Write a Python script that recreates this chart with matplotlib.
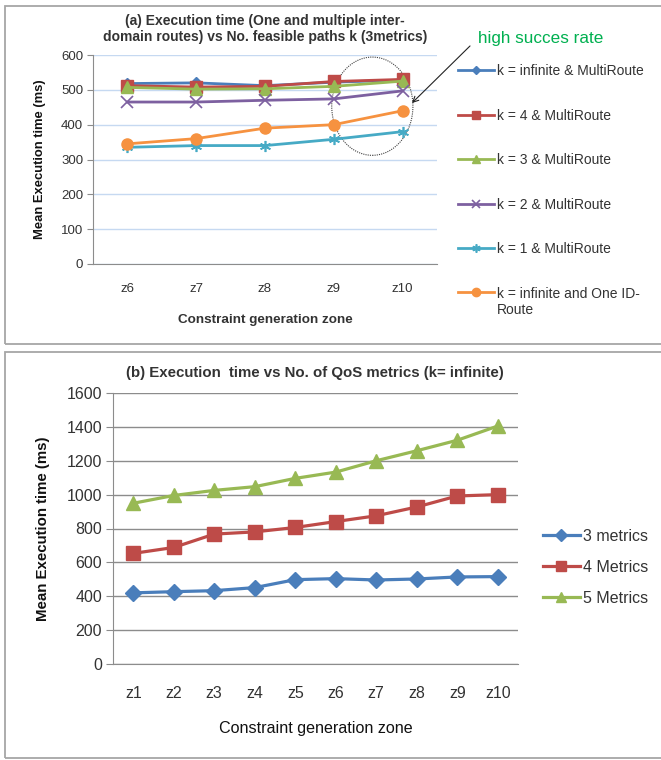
import numpy as np
import matplotlib
matplotlib.use("Agg")
import matplotlib.pyplot as plt
from matplotlib.patches import Ellipse, Rectangle

plt.rcParams['font.family'] = ['Liberation Sans', 'DejaVu Sans']

# (a) execution time vs k, zones z6..z10
zones_a = ['z6', 'z7', 'z8', 'z9', 'z10']
k_inf_multi = [518, 520, 512, 522, 528]
k4_multi = [512, 508, 510, 524, 530]
k3_multi = [507, 502, 503, 510, 525]
k2_multi = [465, 465, 470, 474, 497]
k1_multi = [335, 340, 340, 358, 380]
k_inf_one = [345, 360, 390, 400, 440]

# (b) execution time vs number of QoS metrics, zones z1..z10
zones_b = ['z1', 'z2', 'z3', 'z4', 'z5', 'z6', 'z7', 'z8', 'z9', 'z10']
m3 = [420, 427, 433, 451, 498, 504, 496, 502, 514, 516]
m4 = [653, 688, 767, 780, 806, 841, 875, 927, 992, 1000]
m5 = [949, 995, 1025, 1047, 1096, 1133, 1200, 1259, 1321, 1405]

BLUE = '#4a7ebb'
RED = '#be4b48'
GREEN = '#98b954'
PURPLE = '#7d60a0'
CYAN = '#46aac5'
ORANGE = '#f69240'
TXT = '#333333'

W, H = 661, 760
fig = plt.figure(figsize=(W / 100, H / 100), dpi=100)

def fx(px):
    return px / W

def fy(py):
    return 1 - py / H

# panel borders
fig.patches.append(Rectangle((fx(5), fy(344)), 1, fy(6) - fy(344), transform=fig.transFigure,
                             fill=False, ec='#a6a6a6', lw=1.3))
fig.patches.append(Rectangle((fx(5), fy(758)), 1, fy(352) - fy(758), transform=fig.transFigure,
                             fill=False, ec='#a6a6a6', lw=1.3))

# ---------- chart (a) ----------
ax1 = fig.add_axes([fx(93), fy(264), fx(437) - fx(93), fy(55) - fy(264)])
xa = np.arange(len(zones_a))
ax1.plot(xa, k_inf_multi, color=BLUE, marker='D', ms=6, lw=2, label='k = infinite & MultiRoute')
ax1.plot(xa, k4_multi, color=RED, marker='s', ms=8, lw=2, label='k = 4 & MultiRoute')
ax1.plot(xa, k3_multi, color=GREEN, marker='^', ms=8, lw=2, label='k = 3 & MultiRoute')
ax1.plot(xa, k2_multi, color=PURPLE, marker='x', ms=8, mew=1.2, lw=2, label='k = 2 & MultiRoute')
ax1.plot(xa, k1_multi, color=CYAN, marker=(6, 2, 0), ms=8, mew=1.2, lw=2, label='k = 1 & MultiRoute')
ax1.plot(xa, k_inf_one, color=ORANGE, marker='o', ms=8, lw=2, label='k = infinite and One ID-\nRoute')
ax1.set_xlim(-0.5, 4.5)
ax1.set_ylim(0, 600)
ax1.set_yticks(range(0, 601, 100))
ax1.set_xticks(xa)
ax1.set_xticklabels(zones_a)
ax1.grid(axis='y', color='#c6d9f1', lw=1)
ax1.set_axisbelow(True)
for s in ['top', 'right']:
    ax1.spines[s].set_visible(False)
for s in ['left', 'bottom']:
    ax1.spines[s].set_color('#8c8c8c')
ax1.tick_params(axis='y', length=4, color='#8c8c8c', labelsize=9.5, labelcolor=TXT, pad=3)
ax1.tick_params(axis='x', length=0, labelsize=9.5, labelcolor=TXT, pad=14)
ax1.set_xlabel('Constraint generation zone', fontsize=9.7, fontweight='bold', color=TXT, labelpad=13)
ax1.set_ylabel('Mean Execution time (ms)', fontsize=9.4, fontweight='bold', color='#111111', labelpad=11)
fig.text(fx(265), fy(29), '(a) Execution time (One and multiple inter-\ndomain routes) vs No. feasible paths k (3metrics)',
         ha='center', va='center', fontsize=10, fontweight='bold', color=TXT, linespacing=1.25)

ax1.add_patch(Ellipse((3.56, 453), 1.18, 282, fill=False, ls=(0, (1, 1)), lw=0.8, ec='#404040', clip_on=False))
fig.text(fx(478), fy(38), 'high succes rate', color='#00b050', fontsize=12.3, ha='left', va='center')
ax1.annotate('', xy=(fx(410), fy(105)), xycoords='figure fraction',
             xytext=(fx(472), fy(44)), textcoords='figure fraction',
             arrowprops=dict(arrowstyle='->', color='#222222', lw=0.8))

h, l = ax1.get_legend_handles_labels()
leg1 = fig.legend(h, l, loc='upper left', bbox_to_anchor=(fx(458), fy(64)), frameon=False,
                  fontsize=10, handlelength=2.6, handletextpad=0.2, labelspacing=2.2, markerscale=0.75,
                  labelcolor=TXT, borderaxespad=0, borderpad=0)
# put the handle of the two-line entry next to its first line
for col in leg1._legend_handle_box.get_children():
    col.get_children()[-1].align = 'top'

# ---------- chart (b) ----------
ax2 = fig.add_axes([fx(113), fy(664), fx(518) - fx(113), fy(393) - fy(664)])
xb = np.arange(len(zones_b))
ax2.plot(xb, m3, color=BLUE, marker='D', ms=8, lw=2.3, label='3 metrics')
ax2.plot(xb, m4, color=RED, marker='s', ms=10, lw=2.3, label='4 Metrics')
ax2.plot(xb, m5, color=GREEN, marker='^', ms=10, lw=2.3, label='5 Metrics')
ax2.set_xlim(-0.5, 9.5)
ax2.set_ylim(0, 1600)
ax2.set_yticks(range(0, 1601, 200))
ax2.set_xticks(xb)
ax2.set_xticklabels(zones_b)
ax2.grid(axis='y', color='#8c8c8c', lw=1)
ax2.set_axisbelow(True)
for s in ['top', 'right']:
    ax2.spines[s].set_visible(False)
for s in ['left', 'bottom']:
    ax2.spines[s].set_color('#8c8c8c')
ax2.tick_params(axis='y', length=5, color='#8c8c8c', labelsize=11.5, labelcolor=TXT, pad=3)
ax2.tick_params(axis='x', length=0, labelsize=11.5, labelcolor=TXT, pad=16)
ax2.set_xlabel('Constraint generation zone', fontsize=11.6, color='#111111', labelpad=14)
ax2.set_ylabel('Mean Execution time (ms)', fontsize=10.8, fontweight='bold', color='#111111', labelpad=12)
fig.text(fx(315), fy(373), '(b) Execution  time vs No. of QoS metrics (k= infinite)',
         ha='center', va='center', fontsize=10.8, fontweight='bold', color=TXT)

h2, l2 = ax2.get_legend_handles_labels()
fig.legend(h2, l2, loc='upper left', bbox_to_anchor=(fx(543), fy(529)), frameon=False,
           fontsize=11.5, handlelength=2.3, handletextpad=0.2, labelspacing=1.0, markerscale=0.75,
           labelcolor=TXT, borderaxespad=0, borderpad=0)

fig.savefig('out.png', dpi=100)
